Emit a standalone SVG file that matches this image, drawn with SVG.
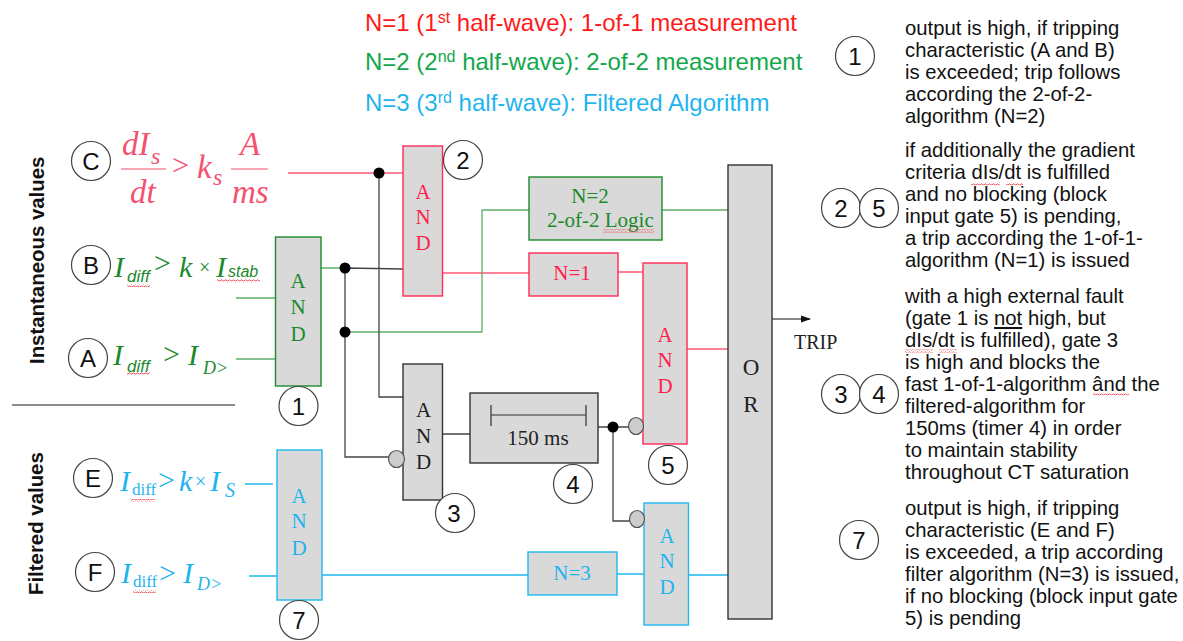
<svg xmlns="http://www.w3.org/2000/svg" width="1183" height="641" viewBox="0 0 1183 641">
<style>
text{font-family:"Liberation Sans",Arial,sans-serif}
.s,.g text,.m,.mi,text.g{font-family:"Liberation Serif","Times New Roman",serif}
.g{font-size:21px;text-anchor:middle}
.o{font-size:23px}
.mi{font-style:italic}
.d{font-size:20.3px;fill:#111}
.t{font-size:24px}
.n{fill:#111;font-size:24px;text-anchor:middle}
.c{fill:#fff;stroke:#444;stroke-width:1.2}
.b{fill:#d9d9d9;stroke-width:1.4}
.R{stroke:#ff2a55}.G{stroke:#1c8a2c}.B{stroke:#1fb8f0}.K{stroke:#333}
.fR{fill:#f4506f}.fr{fill:#ff1f4b}.fG{fill:#1c8a2c}.fB{fill:#1fb4ee}.fK{fill:#222}
.l{fill:none;stroke-width:1.3}
.lr{stroke:#ff5a78}.lg{stroke:#5fae68}.lb{stroke:#1fb8f0}.lk{stroke:#444}
.j{fill:#000}
.i{fill:#ccc;stroke:#555;stroke-width:1.2}
</style>
<defs>
<pattern id="wave" width="4" height="3" patternUnits="userSpaceOnUse"><path d="M0 2L1 1L2 0.8L3 2L4 2" fill="none" stroke="#e8343c" stroke-width="0.8"/></pattern>
<marker id="arr" markerWidth="10" markerHeight="8" refX="9" refY="4" orient="auto" markerUnits="userSpaceOnUse"><path d="M0 0.5L10 4L0 7.5z" fill="#111"/></marker>
</defs>
<rect width="1183" height="641" fill="#fff"/>

<g id="connectors">
<path class="l lr" d="M288 173H403M442 273H529M618 272H643M687 349H728"/>
<path class="l lg" d="M236 298H275M236 359H275M321 268H345M345 332H482V210H529M662 210H728"/>
<path class="l lk" d="M379 173V397H403M345 268L403 269M345 268V457H389M442 434H470M598 427H629M613 427V521H630" />
<path class="l lb" d="M245 484H273M249 576H277M322 575H528M617 574H644M688 575H728"/>
<path d="M772 319H810" fill="none" stroke="#111" stroke-width="1.2" marker-end="url(#arr)"/>
<path d="M12 405H235" fill="none" stroke="#666" stroke-width="1.5"/>
<circle class="j" cx="379" cy="173" r="5.500"/><circle class="j" cx="345" cy="268" r="5.500"/><circle class="j" cx="345" cy="332" r="5.500"/><circle class="j" cx="613" cy="427" r="5.500"/>
</g>

<g id="header">
<text class="t" x="365" y="31" fill="#ff1a1a">N=1 (1<tspan dy="-8" font-size="16">st</tspan><tspan dy="8"> half-wave): 1-of-1 measurement</tspan></text>
<text class="t" x="365" y="70" fill="#12a84c">N=2 (2<tspan dy="-8" font-size="16">nd</tspan><tspan dy="8"> half-wave): 2-of-2 measurement</tspan></text>
<text class="t" x="365" y="111" fill="#1fb4ee">N=3 (3<tspan dy="-8" font-size="16">rd</tspan><tspan dy="8"> half-wave): Filtered Algorithm</tspan></text>
<text transform="translate(44 364) rotate(-90)" font-size="20.400" font-weight="bold" fill="#111">Instantaneous values</text>
<text transform="translate(43 595) rotate(-90)" font-size="20.400" font-weight="bold" fill="#111">Filtered values</text>
</g>

<g id="gate1"><rect class="b G" x="275.500" y="237" width="45.500" height="149"/><g class="g fG"><text x="298" y="288">A</text><text x="298" y="314">N</text><text x="298" y="341">D</text></g></g>
<g id="gate2"><rect class="b R" x="403" y="146" width="39.500" height="150"/><g class="g fr"><text x="423" y="199">A</text><text x="423" y="224">N</text><text x="423" y="250">D</text></g></g>
<g id="gate3"><rect class="b K" x="403" y="364" width="39.500" height="136"/><g class="g fK"><text x="423.500" y="417">A</text><text x="423.500" y="443">N</text><text x="423.500" y="469">D</text></g></g>
<g id="timer"><rect class="b K" x="470" y="393" width="128" height="70"/><path d="M491 405V426M491 415H586M586 405V426" fill="none" stroke="#333" stroke-width="1.200"/><text class="g fK" x="538" y="445" font-size="19">150 ms</text></g>
<g id="gate5"><rect class="b R" x="643" y="263" width="44" height="181"/><g class="g fr"><text x="665" y="342">A</text><text x="665" y="367">N</text><text x="665" y="393">D</text></g></g>
<g id="gate6"><rect class="b B" x="644" y="503" width="44.500" height="122"/><g class="g fB"><text x="667" y="543">A</text><text x="667" y="568">N</text><text x="667" y="594">D</text></g></g>
<g id="gate7"><rect class="b B" x="277" y="450" width="45" height="150"/><g class="g fB"><text x="299" y="503">A</text><text x="299" y="528">N</text><text x="299" y="555">D</text></g></g>
<g id="or"><rect class="b K" x="728" y="165" width="44" height="454"/><g class="g o fK"><text x="751" y="375">O</text><text x="751" y="412">R</text></g></g>
<g id="n2"><rect class="b G" x="529" y="177" width="133" height="63"/><text class="g fG" x="590" y="203">N=2</text><text class="s fG" x="547" y="227" font-size="21">2-of-2 Logic</text><rect x="603" y="229.500" width="51" height="3" fill="url(#wave)"/></g>
<g id="n1"><rect class="b R" x="529" y="253" width="89" height="43"/><text class="g fr" x="572" y="280">N=1</text></g>
<g id="n3"><rect class="b B" x="528" y="552" width="89" height="43"/><text class="g fB" x="572" y="580">N=3</text></g>
<g id="inv"><ellipse class="i" cx="396.500" cy="459" rx="8" ry="8.500"/><ellipse class="i" cx="636" cy="426" rx="7.500" ry="8.500"/><ellipse class="i" cx="637" cy="519" rx="7.500" ry="8.500"/></g>
<text id="trip" class="s" x="794" y="349" font-size="20" fill="#222">TRIP</text>

<g id="markC"><circle class="c" cx="91" cy="161" r="19.500"/><text class="n" x="91" y="169.500">C</text></g>
<g id="markB"><circle class="c" cx="91" cy="265" r="19.500"/><text class="n" x="91" y="273.500">B</text></g>
<g id="markA"><circle class="c" cx="88" cy="358" r="19.500"/><text class="n" x="88" y="366.500">A</text></g>
<g id="markE"><circle class="c" cx="93" cy="478" r="19.500"/><text class="n" x="93" y="486.500">E</text></g>
<g id="markF"><circle class="c" cx="95" cy="572" r="19.500"/><text class="n" x="95" y="580.500">F</text></g>
<g id="mark1"><circle class="c" cx="298.500" cy="406" r="19.500"/><text class="n" x="298.500" y="414.500">1</text></g>
<g id="mark2"><circle class="c" cx="463" cy="160" r="19.500"/><text class="n" x="463" y="168.500">2</text></g>
<g id="mark3"><circle class="c" cx="455" cy="513" r="19.500"/><text class="n" x="454" y="521.500">3</text></g>
<g id="mark4"><circle class="c" cx="573" cy="484" r="19.500"/><text class="n" x="573" y="492.500">4</text></g>
<g id="mark5"><circle class="c" cx="668" cy="465" r="19.500"/><text class="n" x="668" y="473.500">5</text></g>
<g id="mark7"><circle class="c" cx="299" cy="620" r="19.500"/><text class="n" x="299" y="628.500">7</text></g>
<g id="legend1"><circle class="c" cx="855" cy="56" r="19.500"/><text class="n" x="855" y="64.500">1</text></g>
<g id="legend2"><circle class="c" cx="841" cy="208" r="19.500"/><text class="n" x="841" y="216.500">2</text></g>
<g id="legend5"><circle class="c" cx="879" cy="208" r="19.500"/><text class="n" x="879" y="216.500">5</text></g>
<g id="legend3"><circle class="c" cx="841" cy="394" r="19.500"/><text class="n" x="841" y="402.500">3</text></g>
<g id="legend4"><circle class="c" cx="879" cy="394" r="19.500"/><text class="n" x="879" y="402.500">4</text></g>
<g id="legend7"><circle class="c" cx="859" cy="540" r="19.500"/><text class="n" x="859" y="548.500">7</text></g>

<g id="formulaC" class="fR">
<text class="mi" x="122" y="155" font-size="33">dI</text><text class="mi" x="151" y="164" font-size="24">s</text>
<path d="M121 169H166M231 169H268" stroke="#f4506f" stroke-width="1.200"/>
<text class="mi" x="130" y="203" font-size="33">dt</text>
<text class="m" x="172" y="175" font-size="30">&gt;</text>
<text class="mi" x="197" y="178" font-size="33">k</text><text class="mi" x="213" y="185" font-size="24">s</text>
<text class="mi" x="240" y="155" font-size="33">A</text>
<text class="mi" x="232" y="203" font-size="33">ms</text>
</g>
<g id="formulaB" class="fG">
<text class="mi" x="114" y="277" font-size="30">I</text><text x="127" y="282" font-size="17" font-style="italic">diff</text>
<text class="m" x="154" y="273" font-size="30">&gt;</text><text class="mi" x="179" y="277" font-size="30">k</text>
<text class="m" x="199" y="274" font-size="20">×</text><text class="mi" x="216" y="277" font-size="30">I</text><text x="228" y="277" font-size="16" font-style="italic">stab</text>
<rect x="127" y="284" width="23" height="3" fill="url(#wave)"/><rect x="217" y="279" width="43" height="3" fill="url(#wave)"/>
</g>
<g id="formulaA" class="fG">
<text class="mi" x="113" y="365" font-size="30">I</text><text x="127" y="372" font-size="17" font-style="italic">diff</text>
<text class="m" x="163" y="364" font-size="30">&gt;</text><text class="mi" x="188" y="365" font-size="30">I</text><text class="mi" x="203" y="374" font-size="18">D&gt;</text>
<rect x="127" y="372" width="23" height="3" fill="url(#wave)"/>
</g>
<g id="formulaE" class="fB">
<text class="mi" x="120" y="491" font-size="30">I</text><text class="s" x="132" y="495" font-size="17">diff</text>
<text class="m" x="158" y="490" font-size="30">&gt;</text><text class="mi" x="179" y="491" font-size="30">k</text>
<text class="m" x="195" y="488" font-size="20">×</text><text class="mi" x="210" y="491" font-size="30">I</text><text class="mi" x="225" y="497" font-size="20">S</text>
<rect x="131" y="499" width="24" height="3" fill="url(#wave)"/>
</g>
<g id="formulaF" class="fB">
<text class="mi" x="121" y="583" font-size="30">I</text><text class="s" x="133" y="587" font-size="17">diff</text>
<text class="m" x="159" y="583" font-size="30">&gt;</text><text class="mi" x="183" y="583" font-size="30">I</text><text class="mi" x="197" y="590" font-size="18">D&gt;</text>
<rect x="133" y="590" width="23" height="3" fill="url(#wave)"/>
</g>

<g id="notes">
<text class="d" x="905" y="35">output is high, if tripping</text>
<text class="d" x="905" y="57">characteristic (A and B)</text>
<text class="d" x="905" y="79">is exceeded; trip follows</text>
<text class="d" x="905" y="101">according the 2-of-2-</text>
<text class="d" x="905" y="123">algorithm (N=2)</text>
<text class="d" x="905" y="157">if additionally the gradient</text>
<text class="d" x="905" y="179">criteria dIs/dt is fulfilled</text>
<text class="d" x="905" y="201">and no blocking (block</text>
<text class="d" x="905" y="223">input gate 5) is pending,</text>
<text class="d" x="905" y="245">a trip according the 1-of-1-</text>
<text class="d" x="905" y="267">algorithm (N=1) is issued</text>
<text class="d" x="905" y="303">with a high external fault</text>
<text class="d" x="905" y="325">(gate 1 is <tspan text-decoration="underline">not</tspan> high, but</text>
<text class="d" x="905" y="347">dIs/dt is fulfilled), gate 3</text>
<text class="d" x="905" y="369">is high and blocks the</text>
<text class="d" x="905" y="391">fast 1-of-1-algorithm ând the</text>
<text class="d" x="905" y="413">filtered-algorithm for</text>
<text class="d" x="905" y="435">150ms (timer 4) in order</text>
<text class="d" x="905" y="457">to maintain stability</text>
<text class="d" x="905" y="479">throughout CT saturation</text>
<text class="d" x="905" y="515">output is high, if tripping</text>
<text class="d" x="905" y="537">characteristic (E and F)</text>
<text class="d" x="905" y="559">is exceeded, a trip according</text>
<text class="d" x="905" y="581">filter algorithm (N=3) is issued,</text>
<text class="d" x="905" y="603">if no blocking (block input gate</text>
<text class="d" x="905" y="625">5) is pending</text>
<rect x="971" y="182.500" width="29" height="3" fill="url(#wave)"/><rect x="1006" y="182.500" width="17" height="3" fill="url(#wave)"/>
<rect x="905" y="349.500" width="28" height="3" fill="url(#wave)"/><rect x="939" y="349.500" width="18" height="3" fill="url(#wave)"/>
<rect x="1093" y="392.500" width="36" height="3" fill="url(#wave)"/>
</g>
</svg>
